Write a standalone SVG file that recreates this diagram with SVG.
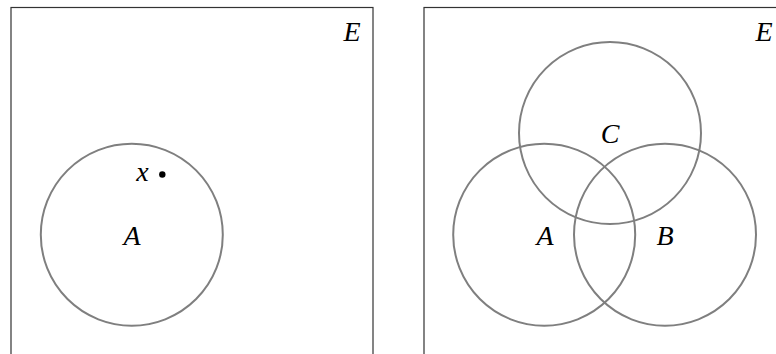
<svg xmlns="http://www.w3.org/2000/svg" width="776" height="354" viewBox="0 0 776 354">
<style>
.frame{fill:none;stroke:#333;stroke-width:1.2}
.set{fill:none;stroke:#7f7f7f;stroke-width:2}
.lbl{font-family:"Liberation Serif","Times New Roman",serif;font-style:italic;font-size:28px;fill:#000;text-anchor:middle}
</style>
<rect width="776" height="354" fill="#fff"/>
<g id="universe-left">
<rect class="frame" x="11" y="7.5" width="362" height="362"/>
<text class="lbl" x="352" y="40.5">E</text>
</g>
<g id="set-A-left">
<circle class="set" cx="131.8" cy="234.7" r="91"/>
<text class="lbl" x="132" y="244.5">A</text>
</g>
<g id="element-x">
<circle cx="162.3" cy="174.5" r="3.2" fill="#000"/>
<text class="lbl" x="142.5" y="180.5">x</text>
</g>
<g id="universe-right">
<rect class="frame" x="424" y="7.5" width="362" height="362"/>
<text class="lbl" x="764" y="40.5">E</text>
</g>
<g id="set-C">
<circle class="set" cx="610" cy="133" r="91"/>
<text class="lbl" x="610" y="143">C</text>
</g>
<g id="set-A-right">
<circle class="set" cx="544.2" cy="234.7" r="91"/>
<text class="lbl" x="545" y="245">A</text>
</g>
<g id="set-B">
<circle class="set" cx="665" cy="234.7" r="91"/>
<text class="lbl" x="665" y="245">B</text>
</g>
<g id="connectors"></g>
</svg>
